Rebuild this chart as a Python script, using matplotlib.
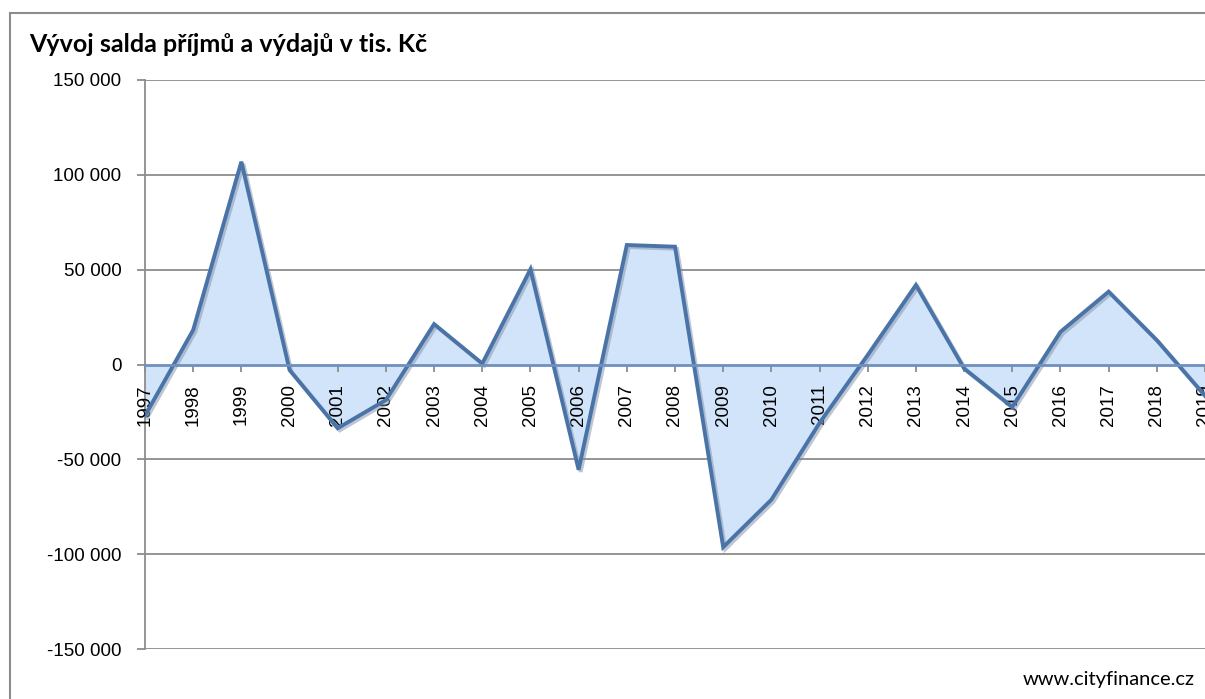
import matplotlib.pyplot as plt
import matplotlib.patheffects as pe
from matplotlib.patches import Rectangle
from matplotlib.ticker import FuncFormatter, MultipleLocator

# saldo prijmu a vydaju (tis. Kc)
years = list(range(1997, 2020))
saldo = [-27000, 18200, 106900, -2900, -33600, -18700, 21300, 500, 50200,
         -55500, 63000, 62100, -96300, -71300, -30800, 5000, 41900, -2100,
         -22400, 17200, 38400, 12800, -16500]

title = 'Vývoj salda příjmů a výdajů v tis. Kč'
source = 'www.cityfinance.cz'

W, H = 1205, 699
fig = plt.figure(figsize=(W / 100, H / 100), dpi=100)

# outer chart frame (cropped on the right / bottom)
fig.patches.append(Rectangle((10 / W, -0.1), 1.2, 1 - 13 / H + 0.1,
                             transform=fig.transFigure, fill=False,
                             edgecolor='#8c8c8c', lw=1.5))

ax = fig.add_axes([145 / W, 1 - 649 / H, 1 - 145 / W, (649 - 80) / H])

line_c = '#4a74a8'
fill_c = '#d2e4f9'

ax.set_xlim(1997, 2019)
ax.set_ylim(-150000, 150000)
ax.yaxis.set_major_locator(MultipleLocator(50000))
ax.set_xticks(years)

# gridlines below the area, tick labels above it
for v in ax.get_yticks():
    if v != 0:
        ax.axhline(v, color='#8c8c8c', lw=1.3, zorder=1)
ax.set_axisbelow(False)

ax.fill_between(years, saldo, 0, color=fill_c, zorder=2, lw=0)
ax.plot(years, saldo, color=line_c, lw=2.8, zorder=5, solid_joinstyle='miter',
        path_effects=[pe.SimpleLineShadow(offset=(1.5, -1.5), shadow_color='#7f8fa8', alpha=0.5),
                      pe.Normal()])

for s in ['top', 'right']:
    ax.spines[s].set_visible(False)
ax.spines['left'].set_color('#8c8c8c')
ax.spines['left'].set_linewidth(1.3)
ax.spines['bottom'].set_position(('data', 0))
ax.spines['bottom'].set_color('#6f8fbf')
ax.spines['bottom'].set_linewidth(2)
ax.spines['bottom'].set_zorder(6)

def fmt(v, pos):
    s = f'{abs(int(v)):,}'.replace(',', ' ')
    return ('-' + s) if v < 0 else s

ax.yaxis.set_major_formatter(FuncFormatter(fmt))
ax.tick_params(axis='y', length=6, width=1.3, color='#8c8c8c', pad=11,
               labelsize=13.5, labelfontfamily='Liberation Sans')
ax.tick_params(axis='x', length=5, width=1.3, color='#8c8c8c', pad=9,
               labelsize=13.5, labelfontfamily='Liberation Sans', labelrotation=90)
for lab in ax.get_xticklabels():
    lab.set_verticalalignment('top')

fig.text(29 / W, 1 - 44 / H, title, fontsize=18, fontweight='bold',
         family='Lato', va='center', ha='left')
fig.text(1195 / W, 1 - 679 / H, source, fontsize=14.5, family='Lato',
         va='center', ha='right')

fig.savefig('out.png', dpi=100)
